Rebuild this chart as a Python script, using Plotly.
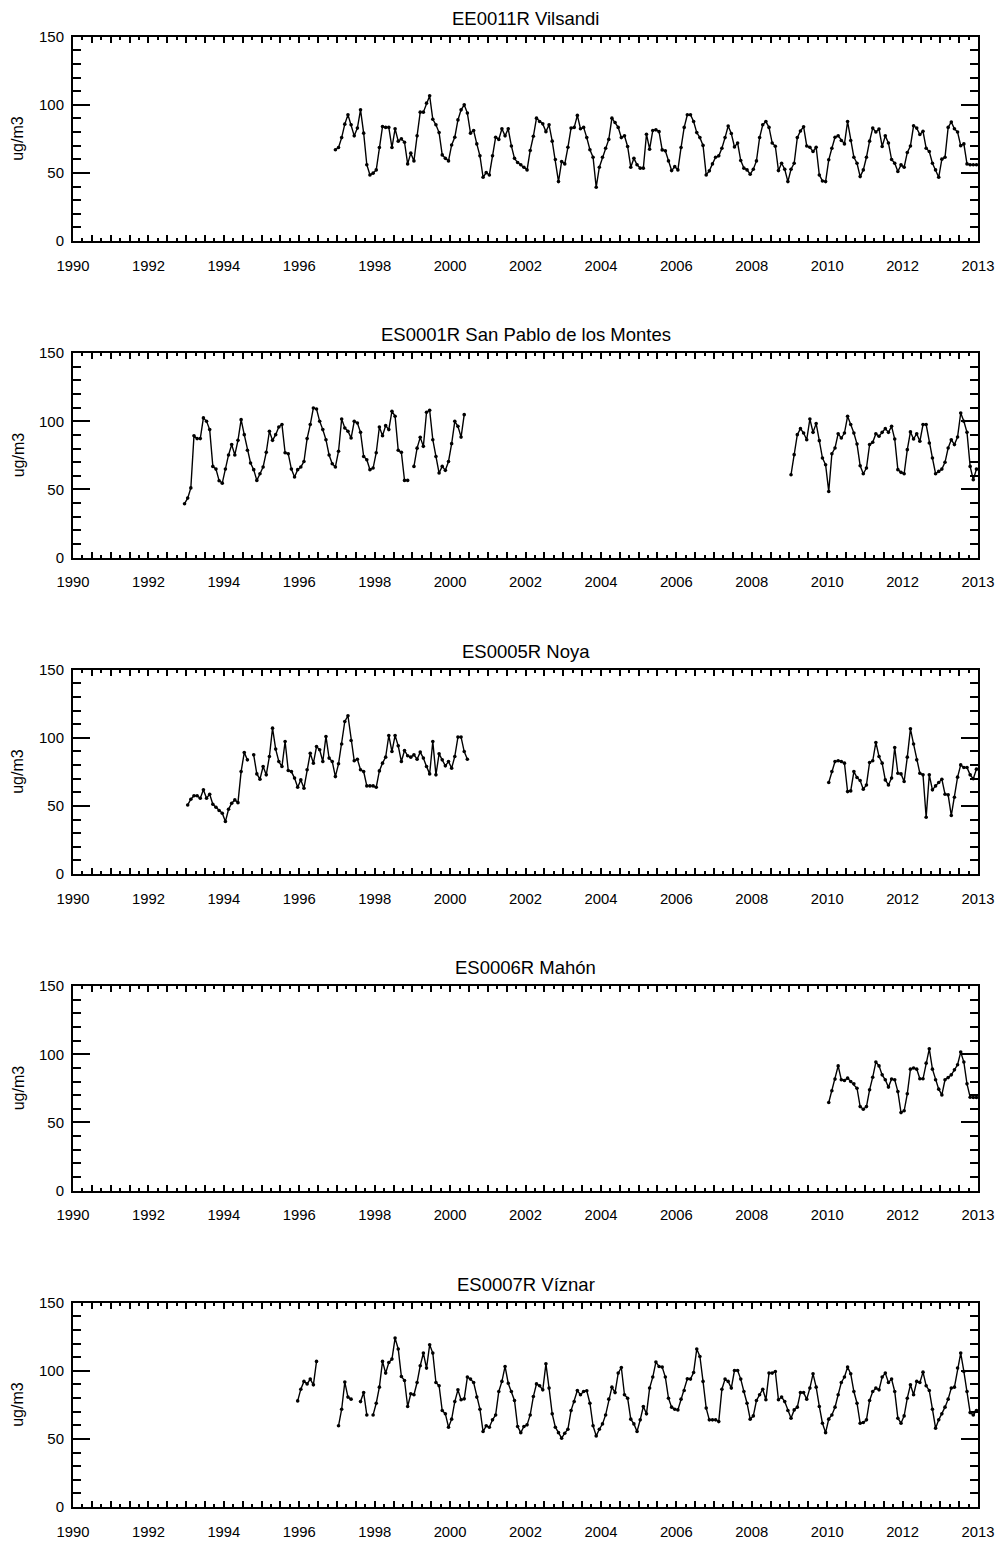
import plotly.graph_objects as go

# Monthly mean concentrations (ug/m3). Each segment starts at the given year/month
# and runs month by month; gaps between segments are left undrawn.
vilsandi_1996 = [
    67, 68.6, 75.9, 85.8, 92.7, 85.3, 77.2, 82.9, 96.3, 79.2, 56, 48.5, 49.8, 52.2, 68.6, 84,
    83.4, 83.4, 68.6, 82.4, 73.3, 75, 72.5, 56.6, 64.5, 58.8, 77.2, 94.6, 94.6, 101.2, 106.6, 89.4,
    85.3, 79.6, 63.2, 60.7, 58.8, 70.5, 76.2, 88.9, 96.3, 100, 93.9, 79.2, 81.1, 71.3, 62.5, 46.8,
    50.2, 48.5, 62.5, 76.2, 74.6, 82.4, 77.2, 82.4, 69.8, 60.7, 57.6, 56, 54.2, 52.2, 66.5, 76.9,
    90.2, 87.7, 86, 80.3, 85.3, 73.3, 59.8, 43.6, 58.3, 56.6, 68.8, 82.9, 83.4, 92.2, 82.4, 83.4,
    75.9, 67, 61.5, 39.5, 54.2, 61.5, 68.1, 74.6, 90.2, 87, 83.4, 75.9, 77.2, 69.4, 54.2, 60.7,
    56, 53.5,
    53.5, 78.4, 67.4, 81.1, 81.6, 80.3, 66.9, 66.2, 58.8, 51.7, 54.6, 52.2, 68.6, 83.4, 92.7, 92.7,
    87.7, 79.6, 75.9, 70.2, 48.5, 51.5, 56.6, 61.5, 62.5, 68.1, 75.9, 84.4, 78.9, 69.1, 72, 59.1,
    53.5, 52.2, 49, 52.7, 58.8, 75.9, 85.3, 87.7, 83.4, 72, 69.6, 51.7, 57.1, 52.7, 43.6, 52.7,
    57.1, 75.9, 80.8, 83.9, 69.8, 68.8, 65.7, 68.8, 48.5, 44.1, 43.6, 59.6, 68.1, 76.2, 77.2, 73.8,
    71.3, 87.7, 73.8, 61.5, 57.1, 47.3, 52.2, 61.5, 73.3, 82.9, 80, 82.2, 69.4, 77.2, 72, 59.8,
    57.1, 51, 55.9, 54.2, 65, 69.8, 84.6, 82.9, 78.2, 80.5, 68.1, 65.7, 57.1, 52.2, 46.8, 60.1,
    61.5, 83.4, 87.4, 82.4, 80, 70, 71.3, 56.6, 56, 56, 56,
]

san_pablo_1992 = [
    39.5, 43.6, 51.1, 89.4, 87.3, 87.3, 102.5, 100, 93.9, 66.9, 64.9, 56.4, 54.6, 64.9, 75.3, 82.9,
    75.3, 86, 101.2, 90.2, 78.7, 69.4, 64.5, 56.6, 61.5, 66.5, 77.2, 92.7, 86, 90.2, 95.8, 97.6,
    76.9, 76.2, 64.9, 59.1, 64.5, 66.5, 70.5, 87.3, 97.6, 109.8, 109, 100, 93.9, 86.5, 75.3, 68.8,
    66.5, 78, 101.7, 95.1, 92.7, 87.7, 100, 98.8, 91.9, 74.2, 71.8, 64.5, 65.7, 76.9, 95.8, 89.4,
    96.8, 93.9, 107.4, 103.7, 78.7, 77.2, 56.6, 56.6,
]
san_pablo_1999 = [
    66.9, 80.3, 88.2, 81.6, 106.6, 108.1, 86.5, 74.2, 62, 66.9, 64, 70.5, 83.6, 100, 96.3, 88.4,
    104.9,
]
san_pablo_2009 = [
    60.8, 75.5, 90.2, 94.6, 91.4, 86.5, 101.7, 91.9, 98.3, 85.8, 73, 68.1, 48.5, 76.2, 80.4, 90.9,
    87.7, 91.4, 103.7, 97.6, 91.4, 83.3, 67.4, 61.5, 65.7, 82.9, 84.6, 90.9, 89, 91.9, 94.6, 91.9,
    96.3, 87, 64.5, 62.5, 61.5, 79.2, 92.2, 87, 90.9, 85.3, 97.6, 97.6, 84.1, 73, 61.5, 63.2,
    64.9, 69.9, 80.4, 86.5, 82.9, 88.5, 106.1, 100, 91.9, 66.9, 57.1, 64.9,
]

noya_1993 = [
    50.7, 54.9, 57.4, 57.4, 55.6, 61.8, 55.6, 58.6, 51.2, 49, 46.6, 44.6, 38.5, 47.5, 52, 54.4,
    52.4, 75.2, 89.2, 83.8,
]
noya_1994 = [
    87.5, 73.5, 69.6, 78.9, 72.8, 86.3, 107.1, 91.7, 82.6, 78.9, 97.3, 76, 75.2, 70.4, 63.7, 69.1,
    63, 76.5, 88.7, 81.4, 93.6, 91.2, 82.6, 101, 85.1, 82.6, 71.5, 80.9, 95.4, 112, 116.2, 98,
    83.1, 84.3, 76.5, 75.2, 64.7, 64.7, 64.7, 63.7, 75.7, 81.4, 85.8, 101.7, 89.9, 101.7, 94.1, 82.6,
    90.7, 86.8, 85.8, 87.5, 84.3, 89.5, 85.1, 78.9, 73.5, 97.3, 72.8, 88.2, 83.8, 79.4, 82.6, 77.7,
    86.3, 100.5, 100.5, 89.9, 84.3,
]
noya_2010 = [
    67.2, 75.2, 82.6, 83.1, 82.6, 81.4, 60.5, 61, 75.2, 70.8, 68.6, 62.3, 65.4, 81.9, 83.1, 96.6,
    86.3, 81.4, 69.1, 65.4, 70.4, 92.9, 74, 73.5, 67.9, 85.8, 106.6, 95.4, 83.8, 74, 72.8, 41.7,
    72.8, 61.8, 64.7, 67.2, 69.6, 58.6, 58.1, 42.9, 56.4, 71.1, 80.1, 78.2, 78.2, 72.8, 69.9, 77,
]

mahon_2010 = [
    64.6, 73.2, 81.8, 91.5, 81.3, 80.8, 82.5, 80, 78.3, 75.1, 61.6, 59.7, 61.6, 73.9, 83.2, 94.3,
    91.5, 84.9, 81.3, 75.9, 81.8, 81.3, 72.6, 57.2, 58.5, 71, 89.1, 89.9, 89.1, 82, 82, 93.5,
    104, 89.1, 81.3, 74.4, 70.2, 81.3, 82.9, 84.9, 88.6, 92.3, 101.6, 94.3, 78.3, 68.5, 68.3, 68.3,
]

viznar_1995 = [77.9, 86.5, 92.2, 90.4, 93.9, 89.7, 106.9]
viznar_1997a = [59.6, 71.8, 91.7, 80.7, 79.2]
viznar_1997b = [77.4, 84, 67.6]
viznar_1997c = [
    67.6, 76.2, 88, 106.9, 98.3, 106.1, 108.6, 124, 116, 95.8, 92.9, 73.8, 83.1, 82.4, 91.4, 103.7,
    113, 102, 119.1, 113, 91.4, 89, 70.8, 68.4, 58.6, 64.5, 77.4, 86, 78.7, 79.4, 95.4, 93.9,
    91.4, 80.7, 71.8, 55.4, 59.6, 58.6, 64, 67.6, 84.8, 92.2, 103.2, 90.9, 84.8, 78.2, 59.1, 54.6,
    59.1, 60.3, 67.6, 81.1, 90.4, 89, 86, 105.1, 87.3, 68.4, 58.6, 54.6, 50.5, 54.2, 57.1, 70.8,
    77.4, 85.5, 82.4, 84.8, 85.3, 76.2, 59.6, 52.2, 57.1, 61, 67.6, 79.2, 88, 84, 98.3, 102.4,
    82.4, 79.9, 64.5, 61, 55.4, 64,
    73.8, 68.4, 87.3, 95.4, 106.4, 103.2, 102.7, 95.4, 79.9, 73.3, 71.8, 71.3, 79.2, 85.5, 94.1, 93.9,
    98.8, 116, 110.5, 92.2, 72.6, 64, 64, 64, 62.7, 86.5, 93.9, 92.2, 87.3, 100.2, 100.2, 93.9,
    84.8, 76.2, 64.5, 66.9, 78.2, 82.4, 86.5, 78.7, 98.3, 98.3, 99.5, 78.7, 80.7, 77.4, 70.8, 65.2,
    71.3, 73.3, 84, 84, 79.2, 87.3, 97.8, 88, 73.8, 61.5, 54.6, 64.5, 67.6, 73.3, 82.4, 91.4,
    95.4, 102.7, 97.8, 84.8, 76.2, 61.5, 62, 64, 78.2, 84.8, 87.3, 86, 95.4, 98.3, 91.4, 93.9,
    84.8, 65.2, 61.5, 66.9, 79.9, 89.7, 82.4, 92.2, 91.4, 99, 89, 85.5, 71.8, 57.9, 64, 68.4,
    73.3, 79.2, 87.3, 88, 102, 113, 99.5, 84.8, 69.3, 67.6, 70.8,
]

station_names = [
    "EE0011R Vilsandi",
    "ES0001R San Pablo de los Montes",
    "ES0005R Noya",
    "ES0006R Mahón",
    "ES0007R Víznar",
]
station_segments = [
    [(1996, 12, vilsandi_1996)],
    [(1992, 12, san_pablo_1992), (1999, 1, san_pablo_1999), (2009, 1, san_pablo_2009)],
    [(1993, 1, noya_1993), (1994, 10, noya_1994), (2010, 1, noya_2010)],
    [(2010, 1, mahon_2010)],
    [(1995, 12, viznar_1995), (1997, 1, viznar_1997a), (1997, 8, viznar_1997b),
     (1997, 12, viznar_1997c)],
]

y_ticks = [0, 50, 100, 150]
x_label_years = list(range(1990, 2013, 2))
unit_label = "ug/m3"

FONT = "Liberation Sans, Arial, Helvetica, sans-serif"
W, H = 1000, 1546
X0, X1 = 73, 978            # plot area, px
PANEL_H = 204.3
BOTTOMS = [241 + 316.5 * k for k in range(5)]


def build_series(segments):
    xs, ys = [], []
    for year, month, vals in segments:
        if xs:
            xs.append(None)
            ys.append(None)
        for i, v in enumerate(vals):
            xs.append(year + (month - 1 + i + 0.5) / 12.0)
            ys.append(v)
    return xs, ys


# Ticks every half year (labelled every two years, last one at the right edge),
# minor ticks every quarter year.
x_tickvals = [1990 + 0.5 * i for i in range(49)]
x_ticktext = []
for v in x_tickvals:
    if v == int(v) and int(v) in x_label_years:
        x_ticktext.append(str(int(v)))
    elif v == 2014:
        x_ticktext.append("2013")
    else:
        x_ticktext.append("")

fig = go.Figure()
annotations = []
layout_axes = {}

for k, (name, segs) in enumerate(zip(station_names, station_segments)):
    xs, ys = build_series(segs)
    sfx = "" if k == 0 else str(k + 1)
    fig.add_trace(go.Scatter(
        x=xs, y=ys, mode="lines+markers",
        line=dict(color="black", width=1.4),
        marker=dict(color="black", size=3.6, symbol="circle"),
        connectgaps=False, showlegend=False,
        xaxis="x" + sfx, yaxis="y" + sfx,
    ))
    bottom = BOTTOMS[k]
    top = bottom - PANEL_H
    dom_y = [1 - bottom / H, 1 - top / H]
    layout_axes["xaxis" + sfx] = dict(
        domain=[X0 / W, X1 / W], anchor="y" + sfx, range=[1990, 2014],
        tickmode="array", tickvals=x_tickvals, ticktext=x_ticktext,
        ticks="inside", ticklen=6, tickwidth=1.5, tickcolor="black",
        minor=dict(tickmode="linear", tick0=1990, dtick=0.25, ticks="inside",
                   ticklen=3, tickwidth=1.5, tickcolor="black"),
        showline=True, linecolor="black", linewidth=2, mirror="ticks",
        showgrid=False, zeroline=False, ticklabelstandoff=10, automargin=False,
        tickfont=dict(family=FONT, size=14.8, color="black"),
    )
    layout_axes["yaxis" + sfx] = dict(
        domain=dom_y, anchor="x" + sfx, range=[0, 150],
        tickmode="array", tickvals=y_ticks,
        ticks="inside", ticklen=17, tickwidth=1.5, tickcolor="black",
        minor=dict(tickmode="linear", tick0=0, dtick=10, ticks="inside",
                   ticklen=8, tickwidth=1.5, tickcolor="black"),
        showline=True, linecolor="black", linewidth=2, mirror="ticks",
        showgrid=False, zeroline=False, ticklabelstandoff=4, automargin=False,
        tickfont=dict(family=FONT, size=15, color="black"),
    )
    annotations.append(dict(
        text=name, xref="paper", yref="paper",
        x=(X0 + X1) / 2 / W, y=1 - (top - 18.5) / H,
        xanchor="center", yanchor="middle", showarrow=False,
        font=dict(family=FONT, size=18.5, color="black"),
    ))
    annotations.append(dict(
        text=unit_label, xref="paper", yref="paper",
        x=18 / W, y=1 - (bottom - PANEL_H / 2) / H,
        xanchor="center", yanchor="middle", showarrow=False, textangle=-90,
        font=dict(family=FONT, size=16, color="black"),
    ))

fig.update_layout(
    width=W, height=H,
    margin=dict(l=0, r=0, t=0, b=0, pad=0, autoexpand=False),
    paper_bgcolor="white", plot_bgcolor="white",
    annotations=annotations,
    **layout_axes,
)

fig.write_html("out.html")
